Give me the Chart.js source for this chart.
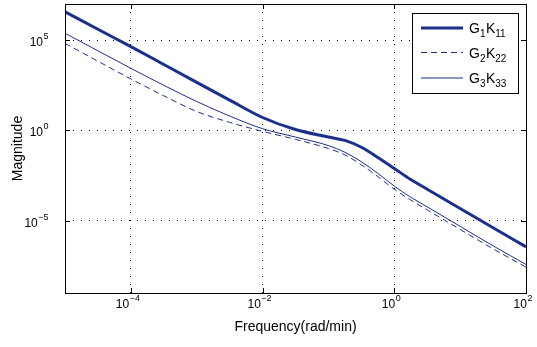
<!DOCTYPE html>
<html><head><meta charset="utf-8">
<script src="https://cdn.jsdelivr.net/npm/chart.js@4.4.1/dist/chart.umd.min.js"></script>
<style>html,body{margin:0;padding:0;background:#fff;}#wrap{width:537px;height:347px;position:relative;}</style>
</head><body><div id="wrap"><canvas id="c" width="537" height="347"></canvas></div>
<script>
// ---- data ----
const frequency = [1e-5, 3.16e-5, 1e-4, 3.16e-4, 1e-3, 3.16e-3, 1e-2, 3.16e-2, 0.1, 0.178, 0.316, 0.562, 1, 1.78, 3.16, 10, 31.6, 100];
const g1k11 = [3.7e6, 4.0e5, 4.4e4, 4.5e3, 4.6e2, 48, 5.2, 1.12, 0.43, 0.28, 0.117, 0.032, 7.9e-3, 1.9e-3, 5.6e-4, 4.8e-5, 4.1e-6, 3.6e-7];
const g2k22 = [6.6e4, 6.8e3, 708, 83, 11.2, 2.8, 0.89, 0.32, 0.1, 0.044, 0.0126, 2.8e-3, 5.5e-4, 1.4e-4, 4.0e-5, 3.3e-6, 2.8e-7, 2.7e-8];
const g3k33 = [2.4e5, 2.57e4, 2.75e3, 316, 40, 6.3, 1.25, 0.43, 0.145, 0.062, 0.0186, 4.2e-3, 8.3e-4, 2.0e-4, 5.9e-5, 4.9e-6, 4.1e-7, 3.8e-8];
const xTickValues = [1e-4, 1e-2, 1, 100];
const xTickExponents = ['\u22124', '\u22122', '0', '2'];
const yTickValues = [1e-5, 1, 1e5];
const yTickExponents = ['\u22125', '0', '5'];
const xLabel = 'Frequency(rad/min)';
const yLabel = 'Magnitude';
// legend labels: [text, isSubscript]
const legendG1 = [['G', false], ['1', true], ['K', false], ['11', true]];
const legendG2 = [['G', false], ['2', true], ['K', false], ['22', true]];
const legendG3 = [['G', false], ['3', true], ['K', false], ['33', true]];

const COLOR = '#1b2f8c';
const FONT = '"Liberation Sans", Arial, Helvetica, sans-serif';

function pts(ys){ return frequency.map((f,i)=>({x:f, y:ys[i]})); }

function drawPow(ctx, exp, x, y, align){
  ctx.font = '12px ' + FONT;
  const wb = ctx.measureText('10').width;
  ctx.font = '9px ' + FONT;
  const ws = ctx.measureText(exp).width;
  const total = wb + ws + 0.5;
  let start = align === 'right' ? x - total : x - total/2;
  ctx.textAlign = 'left'; ctx.textBaseline = 'alphabetic';
  ctx.font = '12px ' + FONT;
  ctx.fillText('10', start, y);
  ctx.font = '9px ' + FONT;
  ctx.fillText(exp, start + wb + 0.5, y - 7);
}

function drawRich(ctx, parts, x, y){
  let cx = x;
  ctx.textAlign = 'left'; ctx.textBaseline = 'alphabetic';
  parts.forEach(([t, sub])=>{
    ctx.font = (sub ? '10px ' : '14px ') + FONT;
    ctx.fillText(t, cx, sub ? y + 4 : y);
    cx += ctx.measureText(t).width + (sub ? 0.5 : 0);
  });
}

const decor = {
  id: 'decor',
  afterDatasetsDraw(chart){
    const {ctx, chartArea:a, scales:{x, y}} = chart;
    const L = Math.round(a.left), R = Math.round(a.right), T = Math.round(a.top), B = Math.round(a.bottom);
    ctx.save();
    ctx.strokeStyle = '#000'; ctx.lineWidth = 1; ctx.setLineDash([]);
    ctx.strokeRect(L + 0.5, T + 0.5, R - L, B - T);
    ctx.beginPath();
    xTickValues.forEach(v=>{
      const px = Math.round(x.getPixelForValue(v)) + 0.5;
      ctx.moveTo(px, B); ctx.lineTo(px, B - 5);
      ctx.moveTo(px, T); ctx.lineTo(px, T + 5);
    });
    yTickValues.forEach(v=>{
      const py = Math.round(y.getPixelForValue(v)) + 0.5;
      ctx.moveTo(L, py); ctx.lineTo(L + 5, py);
      ctx.moveTo(R, py); ctx.lineTo(R - 5, py);
    });
    ctx.stroke();

    ctx.fillStyle = '#000';
    xTickValues.forEach((v,i)=>{
      drawPow(ctx, xTickExponents[i], x.getPixelForValue(v) - 3, B + 15, 'center');
    });
    yTickValues.forEach((v,i)=>{
      drawPow(ctx, yTickExponents[i], L - 16.5, y.getPixelForValue(v) + 6, 'right');
    });

    ctx.font = '14px ' + FONT;
    ctx.textAlign = 'center'; ctx.textBaseline = 'middle';
    ctx.fillText(xLabel, (L + R)/2, 327);
    ctx.save();
    ctx.translate(18, (T + B)/2);
    ctx.rotate(-Math.PI/2);
    ctx.fillText(yLabel, 0, 0);
    ctx.restore();

    // legend
    const bx = 412, by = 13, bw = 106, bh = 80;
    ctx.fillStyle = '#fff';
    ctx.fillRect(bx, by, bw, bh);
    ctx.strokeStyle = '#000'; ctx.lineWidth = 1;
    ctx.strokeRect(bx + 0.5, by + 0.5, bw, bh);
    const labels = [legendG1, legendG2, legendG3];
    const rows = [28, 52.5, 78];
    chart.data.datasets.forEach((ds, i)=>{
      ctx.save();
      ctx.strokeStyle = ds.borderColor; ctx.lineWidth = ds.borderWidth;
      ctx.setLineDash(ds.borderDash || []);
      ctx.beginPath(); ctx.moveTo(421, rows[i]); ctx.lineTo(463, rows[i]); ctx.stroke();
      ctx.restore();
      ctx.fillStyle = '#000';
      drawRich(ctx, labels[i], 469, rows[i] + 5);
    });
    ctx.restore();
  }
};

new Chart(document.getElementById('c'), {
  type: 'line',
  data: { datasets: [
    { label: 'G1K11', data: pts(g1k11), borderColor: COLOR, borderWidth: 3, pointRadius: 0, fill: false, cubicInterpolationMode: 'monotone' },
    { label: 'G2K22', data: pts(g2k22), borderColor: COLOR, borderWidth: 1, borderDash: [6, 4], pointRadius: 0, fill: false, cubicInterpolationMode: 'monotone' },
    { label: 'G3K33', data: pts(g3k33), borderColor: COLOR, borderWidth: 1, pointRadius: 0, fill: false, cubicInterpolationMode: 'monotone' }
  ]},
  options: {
    responsive: false, animation: false, devicePixelRatio: 1,
    layout: { padding: { left: 65, top: 4, right: 11, bottom: 54 } },
    plugins: { legend: { display: false }, tooltip: { enabled: false } },
    scales: {
      x: { type: 'logarithmic', min: 1e-5, max: 100,
           afterBuildTicks: s => { s.ticks = xTickValues.map(v => ({ value: v })); },
           ticks: { display: false },
           grid: { color: '#000', lineWidth: 1, drawTicks: false },
           border: { display: false, dash: [1, 7] } },
      y: { type: 'logarithmic', min: 1e-9, max: 1e7,
           afterBuildTicks: s => { s.ticks = yTickValues.map(v => ({ value: v })); },
           ticks: { display: false },
           grid: { color: '#000', lineWidth: 1, drawTicks: false },
           border: { display: false, dash: [1, 7] } }
    }
  },
  plugins: [decor]
});
</script></body></html>
